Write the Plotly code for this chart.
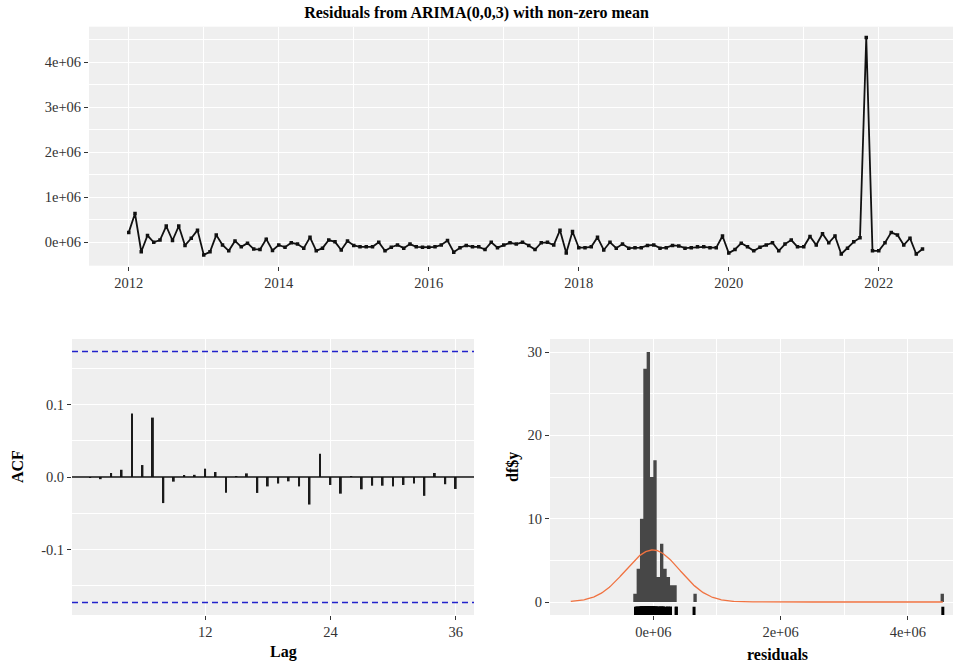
import numpy as np
import plotly.graph_objects as go

# ---- data -------------------------------------------------------------
start_year = 2012          # monthly series, first observation Jan 2012
freq = 12

# model residuals, in millions
resid_e6 = [
    0.22, 0.64, -0.21, 0.15, 0.00, 0.05, 0.36, 0.04, 0.36, -0.07, 0.09, 0.27,
    -0.28, -0.21, 0.16, -0.06, -0.19, 0.03, -0.10, -0.02, -0.15, -0.16, 0.07, -0.18,
    -0.06, -0.11, -0.01, -0.04, -0.13, 0.11, -0.19, -0.13, 0.05, 0.01, -0.17, 0.03,
    -0.07, -0.10, -0.10, -0.10, 0.00, -0.19, -0.11, -0.06, -0.13, -0.04, -0.10, -0.11,
    -0.11, -0.10, -0.06, 0.04, -0.22, -0.12, -0.07, -0.10, -0.10, -0.16, 0.00, -0.12,
    -0.06, -0.01, -0.04, 0.00, -0.07, -0.16, -0.01, 0.00, -0.06, 0.27, -0.24, 0.24,
    -0.12, -0.12, -0.10, 0.11, -0.17, 0.00, -0.13, -0.04, -0.13, -0.12, -0.12, -0.07,
    -0.06, -0.13, -0.12, -0.07, -0.08, -0.13, -0.12, -0.10, -0.10, -0.12, -0.12, 0.14,
    -0.24, -0.16, -0.02, -0.10, -0.19, -0.11, -0.06, -0.01, -0.19, -0.04, 0.05, -0.10,
    -0.10, 0.13, -0.06, 0.19, -0.01, 0.14, -0.26, -0.13, 0.01, 0.10, 4.55, -0.19,
    -0.19, -0.01, 0.22, 0.16, -0.06, 0.09, -0.26, -0.15,
]

acf_lags = list(range(1, 37))
acf_values = [
    -0.001, -0.003, 0.0055, 0.010, 0.0876, 0.0165, 0.082, -0.036, -0.0064, 0.0023,
    0.003, 0.0115, 0.0069, -0.0216, 0.0005, 0.005, -0.022, -0.013, -0.009, -0.006,
    -0.013, -0.038, 0.032, -0.011, -0.023, 0.0005, -0.017, -0.012, -0.012, -0.013,
    -0.011, -0.009, -0.026, 0.0055, -0.010, -0.0165,
]

# histogram of residuals: bins anchored at 0, index k covers [k*bw, (k+1)*bw)
hist_binwidth_e6 = 0.0525
hist_bin_index = [-6, -5, -4, -3, -2, -1, 0, 1, 2, 3, 4, 5, 6, 12, 86]
hist_counts = [1, 4, 10, 28, 30, 15, 17, 3, 7, 4, 3, 2, 2, 1, 1]

year_ticks = [2012, 2014, 2016, 2018, 2020, 2022]
resid_ticks_e6 = [0, 1, 2, 3, 4]
lag_ticks = [12, 24, 36]
acf_ticks = [-0.1, 0.0, 0.1]
hist_x_ticks_e6 = [0, 2, 4]
hist_y_ticks = [0, 10, 20, 30]

# ---- derived ----------------------------------------------------------
resid = np.array(resid_e6) * 1e6
n = len(resid)
years = start_year + np.arange(n) / freq
ci = 1.96 / np.sqrt(n)

bw = hist_binwidth_e6 * 1e6
k_lo, k_hi = min(hist_bin_index), max(hist_bin_index)
full_counts = np.zeros(k_hi - k_lo + 1)
for k, c in zip(hist_bin_index, hist_counts):
    full_counts[k - k_lo] = c
edges = np.arange(k_lo, k_hi + 2) * bw
step_y = np.append(full_counts, full_counts[-1])

mu = resid.mean()
sd = resid.std(ddof=1)
gx = np.linspace(min(resid.min(), mu - 3 * sd), max(resid.max(), mu + 3 * sd), 512)
gy = n * bw * np.exp(-0.5 * ((gx - mu) / sd) ** 2) / (sd * np.sqrt(2 * np.pi))

# ---- styling ----------------------------------------------------------
W, H = 953, 662
FONT = "Liberation Serif"
PANEL = "#EFEFEF"
TICK = "#333333"
BAR = "#474747"


def fx(px):
    return px / W


def fy(px):
    return 1 - px / H


def axis_style(**kw):
    base = dict(
        showgrid=True, gridcolor="white", gridwidth=1.3,
        zeroline=False, showline=False,
        ticks="outside", ticklen=4, tickwidth=1.2, tickcolor=TICK,
        tickfont=dict(family=FONT, size=14.5, color=TICK),
    )
    base.update(kw)
    return base


def minor(vals):
    return dict(tickvals=vals, showgrid=True, gridcolor="white", gridwidth=0.7, ticks="")


fig = go.Figure()

# time plot of residuals
fig.add_trace(go.Scatter(
    x=years, y=resid, mode="lines+markers",
    line=dict(color="#111111", width=1.8),
    marker=dict(color="#111111", size=3.5, symbol="square"),
    xaxis="x", yaxis="y", hoverinfo="skip",
))

# ACF spikes
fig.add_trace(go.Bar(
    x=acf_lags, y=acf_values, width=0.18,
    marker=dict(color="#1a1a1a", line=dict(width=0)),
    xaxis="x2", yaxis="y2", hoverinfo="skip",
))

# histogram drawn as a filled step outline so adjacent bins join seamlessly
fig.add_trace(go.Scatter(
    x=edges, y=step_y, mode="lines", line=dict(shape="hv", width=0, color=BAR),
    fill="tozeroy", fillcolor=BAR,
    xaxis="x3", yaxis="y3", hoverinfo="skip",
))

# normal density scaled to counts
fig.add_trace(go.Scatter(
    x=gx, y=gy, mode="lines",
    line=dict(color="#f07240", width=1.3),
    xaxis="x3", yaxis="y3", hoverinfo="skip",
))

shapes = []
# zero line and confidence bounds on the ACF
shapes.append(dict(type="line", xref="x2 domain", yref="y2", x0=0, x1=1, y0=0, y1=0,
                   line=dict(color="#111111", width=1.4)))
for s in (ci, -ci):
    shapes.append(dict(type="line", xref="x2 domain", yref="y2", x0=0, x1=1, y0=s, y1=s,
                       line=dict(color="#2222cc", width=1.4, dash="6px,4px")))
# rug under the histogram
for v in resid:
    shapes.append(dict(type="line", xref="x3", yref="y3 domain", x0=v, x1=v, y0=0, y1=0.03,
                       line=dict(color="black", width=3)))


def label(text, px, py, angle=0):
    return dict(text=f"<b>{text}</b>", x=fx(px), y=fy(py), xref="paper", yref="paper",
                xanchor="center", yanchor="middle", textangle=angle, showarrow=False,
                font=dict(family=FONT, size=16, color="black"))


annotations = [
    label("Lag", 283, 652),
    label("residuals", 777, 654),
    label("ACF", 18, 467, -90),
    label("df$y", 513, 467, -90),
]

fig.update_layout(
    width=W, height=H,
    margin=dict(l=0, r=0, t=0, b=0),
    paper_bgcolor="white", plot_bgcolor=PANEL,
    showlegend=False,
    title=dict(text="<b>Residuals from ARIMA(0,0,3) with non-zero mean</b>",
               x=0.5, xanchor="center", y=fy(12), yanchor="middle",
               font=dict(family=FONT, size=16, color="black")),
    xaxis=axis_style(domain=[fx(89), 1], range=[2011.47, 2022.99], anchor="y",
                     tickvals=year_ticks, ticktext=[str(y) for y in year_ticks],
                     minor=minor([y + 1 for y in year_ticks])),
    yaxis=axis_style(domain=[fy(265.7), fy(26.7)], range=[-0.52e6, 4.79e6], anchor="x",
                     tickvals=[t * 1e6 for t in resid_ticks_e6],
                     ticktext=[f"{t}e+06" for t in resid_ticks_e6],
                     minor=minor([(t - 0.5) * 1e6 for t in resid_ticks_e6] + [4.5e6])),
    xaxis2=axis_style(domain=[fx(72), fx(474)], range=[-0.75, 37.75], anchor="y2",
                      tickvals=lag_ticks, ticktext=[str(t) for t in lag_ticks]),
    yaxis2=axis_style(domain=[fy(615), fy(339)], range=[-0.1905, 0.1905], anchor="x2",
                      tickvals=acf_ticks, ticktext=[f"{t:.1f}" for t in acf_ticks],
                      minor=minor([-0.15, -0.05, 0.05, 0.15])),
    xaxis3=axis_style(domain=[fx(550), 1], range=[-1.624e6, 4.71e6], anchor="y3",
                      tickvals=[t * 1e6 for t in hist_x_ticks_e6],
                      ticktext=[f"{t}e+06" for t in hist_x_ticks_e6],
                      minor=minor([-1e6, 1e6, 3e6])),
    yaxis3=axis_style(domain=[fy(615), fy(339)], range=[-1.56, 31.56], anchor="x3",
                      tickvals=hist_y_ticks, ticktext=[str(t) for t in hist_y_ticks],
                      minor=minor([5, 15, 25])),
    shapes=shapes,
    annotations=annotations,
)

fig.write_html("out.html")
